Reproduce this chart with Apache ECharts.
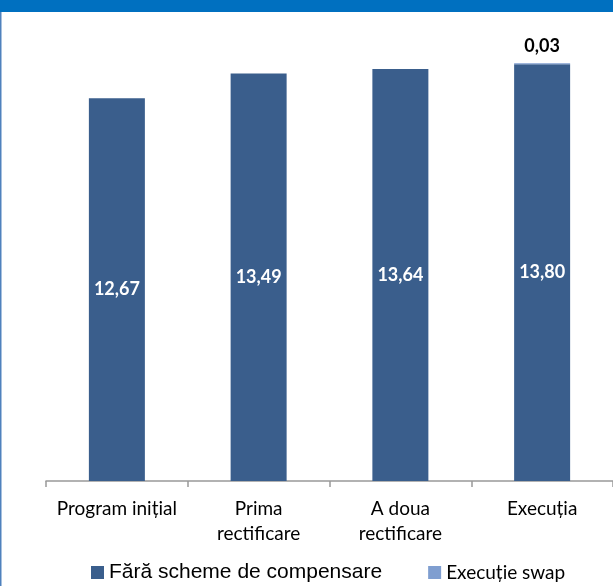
<!DOCTYPE html>
<html>
<head>
<meta charset="utf-8">
<script src="https://cdn.jsdelivr.net/npm/echarts@6/dist/echarts.min.js"></script>
<style>
  html, body { margin: 0; padding: 0; background: #fff; }
  #chart { width: 613px; height: 586px; }
</style>
</head>
<body>
<div id="chart"></div>
<script>
// Categories along the x axis
const categories = ['Program inițial', 'Prima\nrectificare', 'A doua\nrectificare', 'Execuția'];
// Base values, without compensation schemes
const baseValues = [12.67, 13.49, 13.64, 13.80];
// Swap execution, stacked on top (only for the last category)
const swapValues = [null, null, null, 0.03];
const seriesNames = ['Fără scheme de compensare', 'Execuție swap'];

const fmt = v => Number(v).toFixed(2).replace('.', ',');
const bodyFont = 'Lato, "Open Sans", sans-serif';

const chart = echarts.init(document.getElementById('chart'), null, { renderer: 'canvas' });
chart.setOption({
  animation: false,
  backgroundColor: '#ffffff',
  graphic: [
    { type: 'rect', left: 0, top: 0, shape: { width: 613, height: 12 }, style: { fill: '#0070C0' }, silent: true },
    { type: 'rect', left: 0, top: 12, shape: { width: 1.5, height: 574 }, style: { fill: '#4F81BD' }, silent: true }
  ],
  grid: { left: 46, right: -6, top: 28, bottom: 105, containLabel: false },
  xAxis: {
    type: 'category',
    data: categories,
    axisLine: { lineStyle: { color: '#999999', width: 1.5 } },
    axisTick: { show: true, length: 6, lineStyle: { color: '#999999', width: 1.5 } },
    axisLabel: {
      color: '#000000',
      fontFamily: bodyFont,
      fontSize: 19,
      lineHeight: 25,
      margin: 15,
      interval: 0
    }
  },
  yAxis: { type: 'value', min: 0, max: 15, show: false, splitLine: { show: false } },
  legend: {
    bottom: -2,
    left: 86,
    itemGap: 46,
    itemWidth: 13,
    itemHeight: 13,
    icon: 'rect',
    data: seriesNames,
    formatter: name => name === seriesNames[0] ? '{a|' + name + '}' : '{b|' + name + '}',
    textStyle: {
      rich: {
        a: { fontFamily: '"Liberation Sans", Arial, sans-serif', fontSize: 21, color: '#000' },
        b: { fontFamily: bodyFont, fontSize: 19, color: '#000' }
      }
    }
  },
  series: [
    {
      name: seriesNames[0],
      type: 'bar',
      stack: 'total',
      data: baseValues,
      barWidth: 56,
      itemStyle: { color: '#3A5E8C' },
      label: {
        show: true,
        position: 'inside',
        color: '#ffffff',
        fontWeight: 'bold',
        fontFamily: bodyFont,
        fontSize: 18,
        formatter: p => fmt(p.value)
      }
    },
    {
      name: seriesNames[1],
      type: 'bar',
      stack: 'total',
      data: swapValues,
      barWidth: 56,
      itemStyle: { color: '#7F9ED0' },
      label: {
        show: true,
        position: 'top',
        distance: 8,
        color: '#000000',
        fontWeight: 'bold',
        fontFamily: bodyFont,
        fontSize: 18,
        formatter: p => fmt(p.value)
      }
    }
  ]
});
</script>
</body>
</html>
